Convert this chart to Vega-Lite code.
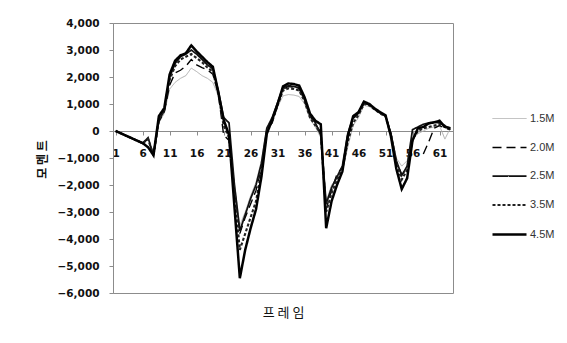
{
  "$schema": "https://vega.github.io/schema/vega-lite/v6.json",
  "autosize": "none",
  "padding": {"left": 113, "top": 23, "right": 115, "bottom": 50},
  "width": 340,
  "height": 270,
  "background": "white",
  "config": {
    "view": {"stroke": "#8c8c8c", "strokeWidth": 1},
    "axis": {"grid": false, "labelFont": "DejaVu Sans", "labelFontWeight": "bold", "labelFontSize": 10.5, "labelColor": "#111", "domainColor": "#8c8c8c", "tickColor": "#8c8c8c", "tickSize": 4}
  },
  "data": {
    "values": [
      {"f":1,"m45":0,"m35":0,"m25":0,"m20":0,"m15":0},
      {"f":2,"m45":-90,"m35":-90,"m25":-90,"m20":-90,"m15":-90},
      {"f":3,"m45":-180,"m35":-180,"m25":-180,"m20":-180,"m15":-180},
      {"f":4,"m45":-270,"m35":-270,"m25":-270,"m20":-270,"m15":-270},
      {"f":5,"m45":-360,"m35":-360,"m25":-360,"m20":-360,"m15":-360},
      {"f":6,"m45":-450,"m35":-450,"m25":-450,"m20":-450,"m15":-450},
      {"f":7,"m45":-600,"m35":-300,"m25":-250,"m20":-300,"m15":-600},
      {"f":8,"m45":-900,"m35":-900,"m25":-900,"m20":-900,"m15":-900},
      {"f":9,"m45":550,"m35":450,"m25":400,"m20":350,"m15":300},
      {"f":10,"m45":850,"m35":800,"m25":750,"m20":700,"m15":650},
      {"f":11,"m45":2100,"m35":1900,"m25":2000,"m20":1700,"m15":1550},
      {"f":12,"m45":2600,"m35":2400,"m25":2500,"m20":2150,"m15":1800},
      {"f":13,"m45":2800,"m35":2650,"m25":2750,"m20":2250,"m15":1950},
      {"f":14,"m45":2880,"m35":2750,"m25":2850,"m20":2400,"m15":2050},
      {"f":15,"m45":3170,"m35":2850,"m25":3000,"m20":2650,"m15":2330},
      {"f":16,"m45":2950,"m35":2700,"m25":2850,"m20":2450,"m15":2200},
      {"f":17,"m45":2750,"m35":2550,"m25":2650,"m20":2350,"m15":2050},
      {"f":18,"m45":2550,"m35":2350,"m25":2450,"m20":2270,"m15":1950},
      {"f":19,"m45":2380,"m35":2200,"m25":2300,"m20":2100,"m15":1800},
      {"f":20,"m45":1450,"m35":1400,"m25":1500,"m20":1400,"m15":1300},
      {"f":21,"m45":420,"m35":200,"m25":500,"m20":-150,"m15":250},
      {"f":22,"m45":-150,"m35":-250,"m25":300,"m20":-350,"m15":-200},
      {"f":23,"m45":-2800,"m35":-2300,"m25":-2000,"m20":-2100,"m15":-1900},
      {"f":24,"m45":-5450,"m35":-4400,"m25":-3700,"m20":-3800,"m15":-3500},
      {"f":25,"m45":-4400,"m35":-3800,"m25":-3100,"m20":-3200,"m15":-3000},
      {"f":26,"m45":-3600,"m35":-3200,"m25":-2500,"m20":-2700,"m15":-2400},
      {"f":27,"m45":-2900,"m35":-2600,"m25":-2000,"m20":-2200,"m15":-1900},
      {"f":28,"m45":-1700,"m35":-1500,"m25":-1200,"m20":-1400,"m15":-1100},
      {"f":29,"m45":-100,"m35":0,"m25":100,"m20":50,"m15":150},
      {"f":30,"m45":420,"m35":350,"m25":500,"m20":300,"m15":450},
      {"f":31,"m45":1000,"m35":950,"m25":1050,"m20":950,"m15":900},
      {"f":32,"m45":1650,"m35":1500,"m25":1600,"m20":1550,"m15":1300},
      {"f":33,"m45":1760,"m35":1580,"m25":1680,"m20":1650,"m15":1350},
      {"f":34,"m45":1740,"m35":1560,"m25":1650,"m20":1620,"m15":1330},
      {"f":35,"m45":1680,"m35":1500,"m25":1600,"m20":1560,"m15":1280},
      {"f":36,"m45":1250,"m35":1100,"m25":1150,"m20":1150,"m15":1000},
      {"f":37,"m45":650,"m35":500,"m25":600,"m20":550,"m15":450},
      {"f":38,"m45":380,"m35":200,"m25":300,"m20":250,"m15":150},
      {"f":39,"m45":250,"m35":-100,"m25":-150,"m20":-50,"m15":-250},
      {"f":40,"m45":-3600,"m35":-3000,"m25":-2700,"m20":-2900,"m15":-2600},
      {"f":41,"m45":-2600,"m35":-2300,"m25":-2100,"m20":-2200,"m15":-2000},
      {"f":42,"m45":-2000,"m35":-1800,"m25":-1700,"m20":-1600,"m15":-1750},
      {"f":43,"m45":-1500,"m35":-1400,"m25":-1300,"m20":-1350,"m15":-1500},
      {"f":44,"m45":-200,"m35":-400,"m25":-100,"m20":-300,"m15":-600},
      {"f":45,"m45":550,"m35":300,"m25":500,"m20":450,"m15":200},
      {"f":46,"m45":700,"m35":600,"m25":680,"m20":650,"m15":500},
      {"f":47,"m45":1090,"m35":1000,"m25":1050,"m20":1020,"m15":950},
      {"f":48,"m45":1000,"m35":950,"m25":980,"m20":960,"m15":900},
      {"f":49,"m45":830,"m35":800,"m25":820,"m20":800,"m15":760},
      {"f":50,"m45":700,"m35":650,"m25":680,"m20":660,"m15":640},
      {"f":51,"m45":580,"m35":540,"m25":560,"m20":550,"m15":520},
      {"f":52,"m45":-200,"m35":-150,"m25":-100,"m20":-100,"m15":-50},
      {"f":53,"m45":-1400,"m35":-1200,"m25":-1100,"m20":-1150,"m15":-1000},
      {"f":54,"m45":-2150,"m35":-1800,"m25":-1650,"m20":-1600,"m15":-1300},
      {"f":55,"m45":-1750,"m35":-1450,"m25":-1300,"m20":-1450,"m15":-1100},
      {"f":56,"m45":-350,"m35":-300,"m25":50,"m20":null,"m15":-300},
      {"f":57,"m45":100,"m35":0,"m25":150,"m20":null,"m15":-100},
      {"f":58,"m45":150,"m35":100,"m25":250,"m20":-850,"m15":0},
      {"f":59,"m45":280,"m35":150,"m25":300,"m20":-400,"m15":100},
      {"f":60,"m45":320,"m35":200,"m25":330,"m20":100,"m15":150},
      {"f":61,"m45":380,"m35":250,"m25":300,"m20":200,"m15":200},
      {"f":62,"m45":150,"m35":150,"m25":200,"m20":100,"m15":-300},
      {"f":63,"m45":100,"m35":100,"m25":50,"m20":50,"m15":100}
    ]
  },
  "transform": [
    {"fold": ["m15", "m20", "m25", "m35", "m45"], "as": ["series", "value"]}
  ],
  "mark": {"type": "line", "strokeJoin": "miter", "clip": true, "invalid": "break-paths-show-domains"},
  "encoding": {
    "x": {
      "field": "f", "type": "quantitative",
      "scale": {"domain": [0.5, 63.5], "nice": false, "zero": false},
      "axis": {
        "offset": -162, "values": [1, 6, 11, 16, 21, 26, 31, 36, 41, 46, 51, 56, 61],
        "labelPadding": 13, "labelFlush": false, "labelOverlap": false,
        "title": "프 레 임", "titleFont": "Noto Sans CJK KR", "titleFontSize": 13, "titleFontWeight": "normal", "titleColor": "#111",
        "titleX": 170, "titleY": 181, "titleBaseline": "middle", "titleAlign": "center"
      }
    },
    "y": {
      "field": "value", "type": "quantitative",
      "scale": {"domain": [-6000, 4000], "nice": false},
      "axis": {
        "values": [-6000, -5000, -4000, -3000, -2000, -1000, 0, 1000, 2000, 3000, 4000],
        "format": ",.0f", "labelPadding": 10,
        "title": "모 멘 트", "titleFont": "Noto Sans CJK KR", "titleFontSize": 12, "titleFontWeight": "bold", "titleColor": "#111",
        "titleX": -71, "titleY": 136, "titleAngle": 270, "titleBaseline": "middle", "titleAlign": "center"
      }
    },
    "color": {
      "field": "series", "type": "nominal",
      "scale": {"domain": ["m15", "m20", "m25", "m35", "m45"], "range": ["#b0b0b0", "#000000", "#111111", "#222222", "#000000"]},
      "legend": {
        "orient": "none", "legendX": 378, "legendY": 78, "title": null,
        "symbolType": "stroke", "symbolSize": 1156, "symbolStrokeWidth": 1.5,
        "labelFont": "Liberation Sans", "labelFontSize": 11, "labelColor": "#333", "labelOffset": 2,
        "rowPadding": 5.5, "padding": 0,
        "labelExpr": "{'m15':'1.5M','m20':'2.0M','m25':'2.5M','m35':'3.5M','m45':'4.5M'}[datum.label]"
      }
    },
    "strokeDash": {
      "field": "series", "type": "nominal",
      "scale": {"domain": ["m15", "m20", "m25", "m35", "m45"], "range": [[1, 0], [9, 5], [1, 0], [3, 2], [1, 0]]},
      "legend": null
    },
    "strokeWidth": {
      "field": "series", "type": "nominal",
      "scale": {"domain": ["m15", "m20", "m25", "m35", "m45"], "range": [1, 2.5, 1, 1, 2.5]},
      "legend": null
    }
  }
}
